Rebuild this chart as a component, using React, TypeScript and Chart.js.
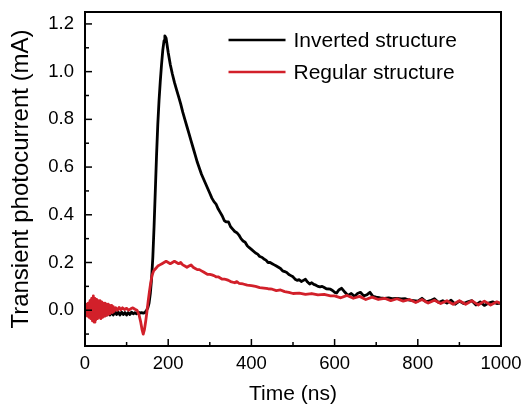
import React, { useEffect, useRef } from "react";
import { Chart, registerables } from "chart.js";

Chart.register(...registerables);

// ---- Data ----
const invertedTime = [
  0, 4, 8, 12, 16, 20, 24, 28, 32, 36, 40, 44, 48, 52, 56, 60, 64, 68, 72, 76, 80, 84, 88, 92, 96, 100,
  104, 108, 112, 116, 120, 124, 128, 132, 136, 140, 144, 148, 151, 154, 157, 160, 163, 166, 169, 172, 175,
  178, 181, 184, 187, 190, 192, 195, 200, 205, 210, 215, 220, 225, 230, 235, 240, 245, 250, 255, 260, 265,
  270, 275, 280, 285, 290, 295, 300, 305, 310, 315, 320, 325, 330, 335, 340, 345, 350, 355, 360, 365, 370,
  375, 380, 385, 390, 395, 400, 410, 415, 420, 425, 430, 435, 440, 445, 450, 455, 460, 465, 470, 475, 480,
  485, 490, 495, 500, 505, 510, 515, 520, 525, 530, 535, 540, 545, 550, 555, 560, 565, 570, 575, 580, 590,
  595, 600, 605, 610, 617, 625, 632, 640, 648, 655, 662, 670, 678, 685, 692, 700, 710, 720, 730, 740, 750,
  760, 770, 780, 790, 800, 810, 820, 830, 840, 850, 860, 870, 880, 890, 900, 910, 920, 930, 940, 950, 960,
  970, 980, 990, 1000,
];
const invertedCurrent = [
  0.0, -0.02, 0.005, -0.025, 0.0, -0.03, 0.005, -0.03, -0.005, -0.025, 0.0, -0.025, -0.005, -0.02, -0.005,
  -0.02, -0.008, -0.02, -0.005, -0.018, -0.008, -0.02, -0.008, -0.018, -0.01, -0.02, -0.01, -0.018, -0.008,
  -0.015, -0.01, -0.015, -0.008, -0.012, -0.01, -0.012, -0.01, 0.0, 0.01, 0.03, 0.07, 0.13, 0.22, 0.35, 0.5,
  0.65, 0.78, 0.88, 0.96, 1.03, 1.09, 1.13, 1.15, 1.14, 1.08, 1.03, 0.99, 0.955, 0.925, 0.895, 0.865, 0.83,
  0.8, 0.77, 0.74, 0.71, 0.68, 0.65, 0.62, 0.595, 0.57, 0.55, 0.53, 0.51, 0.49, 0.47, 0.455, 0.445, 0.425,
  0.41, 0.395, 0.375, 0.37, 0.37, 0.35, 0.34, 0.33, 0.325, 0.315, 0.3, 0.29, 0.285, 0.27, 0.262, 0.255, 0.24,
  0.235, 0.225, 0.222, 0.215, 0.21, 0.2, 0.2, 0.195, 0.19, 0.185, 0.18, 0.175, 0.165, 0.162, 0.158, 0.15,
  0.145, 0.14, 0.13, 0.125, 0.128, 0.12, 0.125, 0.13, 0.118, 0.11, 0.115, 0.108, 0.105, 0.1, 0.098, 0.1,
  0.095, 0.09, 0.088, 0.083, 0.075, 0.072, 0.085, 0.092, 0.075, 0.062, 0.07, 0.058, 0.07, 0.075, 0.06, 0.065,
  0.075, 0.058, 0.055, 0.052, 0.05, 0.052, 0.048, 0.05, 0.047, 0.048, 0.042, 0.04, 0.038, 0.05, 0.035, 0.04,
  0.048, 0.032, 0.04, 0.03, 0.042, 0.025, 0.038, 0.028, 0.035, 0.04, 0.022, 0.035, 0.02, 0.03, 0.035, 0.028,
  0.03,
];

const regularTime = [
  0, 2, 4, 6, 8, 10, 12, 14, 16, 18, 20, 22, 24, 26, 28, 30, 32, 34, 36, 38, 40, 42, 44, 46, 48, 50, 52, 54,
  56, 58, 60, 62, 64, 66, 68, 70, 74, 78, 82, 86, 90, 95, 100, 105, 110, 115, 120, 125, 130, 134, 137, 140,
  143, 146, 149, 152, 155, 158, 161, 165, 170, 175, 180, 185, 190, 195, 200, 205, 210, 215, 220, 225, 230,
  235, 240, 245, 250, 255, 260, 265, 270, 275, 280, 285, 290, 295, 300, 305, 310, 315, 320, 325, 330, 335,
  340, 345, 350, 360, 365, 370, 380, 390, 400, 410, 420, 430, 440, 450, 460, 470, 480, 490, 500, 515, 530,
  545, 560, 575, 590, 600, 615, 630, 645, 660, 675, 690, 705, 720, 735, 750, 765, 780, 795, 810, 825, 840,
  855, 870, 885, 900, 915, 930, 945, 960, 975, 990, 1000,
];
const regularCurrent = [
  0.02, -0.02, 0.025, -0.025, 0.03, -0.03, 0.04, -0.035, 0.05, -0.045, 0.06, -0.05, 0.05, -0.04, 0.045,
  -0.035, 0.04, -0.03, 0.04, -0.035, 0.035, -0.03, 0.03, -0.025, 0.03, -0.02, 0.025, -0.02, 0.025, -0.015,
  0.02, -0.01, 0.02, -0.01, 0.015, -0.005, 0.01, 0.0, 0.012, 0.002, 0.01, 0.003, 0.008, 0.0, 0.006, 0.01,
  0.004, 0.0, -0.02, -0.05, -0.08, -0.1, -0.08, -0.045, -0.005, 0.04, 0.08, 0.115, 0.145, 0.165, 0.175,
  0.185, 0.19, 0.195, 0.2, 0.205, 0.2, 0.195, 0.2, 0.205, 0.2, 0.195, 0.2, 0.19, 0.185, 0.18, 0.185, 0.19,
  0.18, 0.175, 0.17, 0.17, 0.165, 0.16, 0.155, 0.15, 0.15, 0.148, 0.145, 0.14, 0.14, 0.135, 0.13, 0.13,
  0.128, 0.125, 0.12, 0.115, 0.12, 0.113, 0.11, 0.105, 0.103, 0.1, 0.095, 0.093, 0.09, 0.088, 0.082, 0.085,
  0.078, 0.075, 0.07, 0.072, 0.066, 0.07, 0.064, 0.066, 0.06, 0.06, 0.052, 0.062, 0.05, 0.058, 0.045, 0.055,
  0.045, 0.05, 0.04, 0.048, 0.038, 0.045, 0.032, 0.045, 0.03, 0.042, 0.028, 0.04, 0.025, 0.04, 0.025, 0.04,
  0.022, 0.038, 0.022, 0.035, 0.028,
];

const xTickValues = [0, 200, 400, 600, 800, 1000];
const xMinorValues = [100, 300, 500, 700, 900];
const yTickValues = [0, 0.2, 0.4, 0.6, 0.8, 1.0, 1.2];
const yMinorValues = [-0.1, 0.1, 0.3, 0.5, 0.7, 0.9, 1.1];

const seriesLabels = ["Inverted structure", "Regular structure"];
const seriesColors = ["#000000", "#d2202a"];

const FONT = "'Liberation Sans', Arial, Helvetica, sans-serif";

const framePlugin = {
  id: "frameTicksLegend",
  afterDraw(chart: any) {
    const { ctx, chartArea } = chart;
    const { left, right, top, bottom } = chartArea;
    const xs = chart.scales.x;
    const ys = chart.scales.y;
    ctx.save();
    ctx.strokeStyle = "#000";
    ctx.lineWidth = 2;
    ctx.strokeRect(left, top, right - left, bottom - top);
    ctx.lineWidth = 1.5;
    const seg = (x1: number, y1: number, x2: number, y2: number) => {
      ctx.beginPath();
      ctx.moveTo(x1, y1);
      ctx.lineTo(x2, y2);
      ctx.stroke();
    };
    xTickValues.forEach((v) => {
      const p = xs.getPixelForValue(v);
      seg(p, bottom, p, bottom - 7);
    });
    xMinorValues.forEach((v) => {
      const p = xs.getPixelForValue(v);
      seg(p, bottom, p, bottom - 4);
    });
    yTickValues.forEach((v) => {
      const p = ys.getPixelForValue(v);
      seg(left, p, left + 7, p);
    });
    yMinorValues.forEach((v) => {
      const p = ys.getPixelForValue(v);
      seg(left, p, left + 4, p);
    });
    // legend
    const legendX = xs.getPixelForValue(345);
    const rows = [40, 72];
    ctx.font = `21px ${FONT}`;
    ctx.textBaseline = "middle";
    ctx.textAlign = "left";
    seriesLabels.forEach((label, i) => {
      ctx.strokeStyle = seriesColors[i];
      ctx.lineWidth = 2.5;
      seg(legendX, rows[i], legendX + 57, rows[i]);
      ctx.fillStyle = "#000";
      ctx.fillText(label, legendX + 65, rows[i] + 1);
    });
    ctx.restore();
  },
};

const zeroPad = (s: any) => {
  s.paddingTop = 0;
  s.paddingBottom = 0;
  s.paddingLeft = 0;
  s.paddingRight = 0;
};

export default function App() {
  const canvasRef = useRef<HTMLCanvasElement | null>(null);

  useEffect(() => {
    const canvas = canvasRef.current;
    if (!canvas) return;
    const toPoints = (xsArr: number[], ysArr: number[]) => xsArr.map((x, i) => ({ x, y: ysArr[i] }));
    const chart = new Chart(canvas, {
      type: "line",
      data: {
        datasets: [
          {
            label: seriesLabels[0],
            data: toPoints(invertedTime, invertedCurrent),
            borderColor: seriesColors[0],
            borderWidth: 2.8,
            borderJoinStyle: "round",
            borderCapStyle: "round",
            pointRadius: 0,
            tension: 0,
            order: 1,
          },
          {
            label: seriesLabels[1],
            data: toPoints(regularTime, regularCurrent),
            borderColor: seriesColors[1],
            borderWidth: 2.8,
            borderJoinStyle: "round",
            borderCapStyle: "round",
            pointRadius: 0,
            tension: 0,
            order: 0,
          },
        ],
      },
      options: {
        responsive: false,
        animation: false,
        devicePixelRatio: 1,
        layout: { padding: { top: 12, right: 23, left: 0, bottom: 0 } },
        plugins: { legend: { display: false }, tooltip: { enabled: false } },
        scales: {
          x: {
            type: "linear",
            min: 0,
            max: 1000,
            grid: { display: false, drawTicks: false },
            border: { display: false },
            afterBuildTicks: (s: any) => {
              s.ticks = xTickValues.map((v) => ({ value: v }));
            },
            afterFit: (s: any) => {
              s.height = 62;
              zeroPad(s);
            },
            ticks: {
              padding: 7,
              color: "#000",
              maxRotation: 0,
              autoSkip: false,
              font: { family: FONT, size: 18.5 },
              callback: (v: any) => String(v),
            },
            title: {
              display: true,
              text: "Time (ns)",
              color: "#000",
              font: { family: FONT, size: 21 },
              padding: { top: 0, bottom: 1 },
            },
          },
          y: {
            type: "linear",
            min: -0.15,
            max: 1.25,
            grid: { display: false, drawTicks: false },
            border: { display: false },
            afterBuildTicks: (s: any) => {
              s.ticks = yTickValues.map((v) => ({ value: v }));
            },
            afterFit: (s: any) => {
              s.width = 85;
              zeroPad(s);
            },
            ticks: {
              padding: 11,
              color: "#000",
              autoSkip: false,
              font: { family: FONT, size: 18.5 },
              callback: (v: any) => Number(v).toFixed(1),
            },
            title: {
              display: true,
              text: "Transient photocurrent (mA)",
              color: "#000",
              font: { family: FONT, size: 24 },
              padding: { top: 6.5, bottom: 0 },
            },
          },
        },
      },
      plugins: [framePlugin],
    });
    return () => chart.destroy();
  }, []);

  return (
    <div style={{ position: "fixed", left: 0, top: 0, width: 524, height: 408, background: "#fff" }}>
      <canvas ref={canvasRef} width={524} height={408} style={{ display: "block" }} />
    </div>
  );
}
